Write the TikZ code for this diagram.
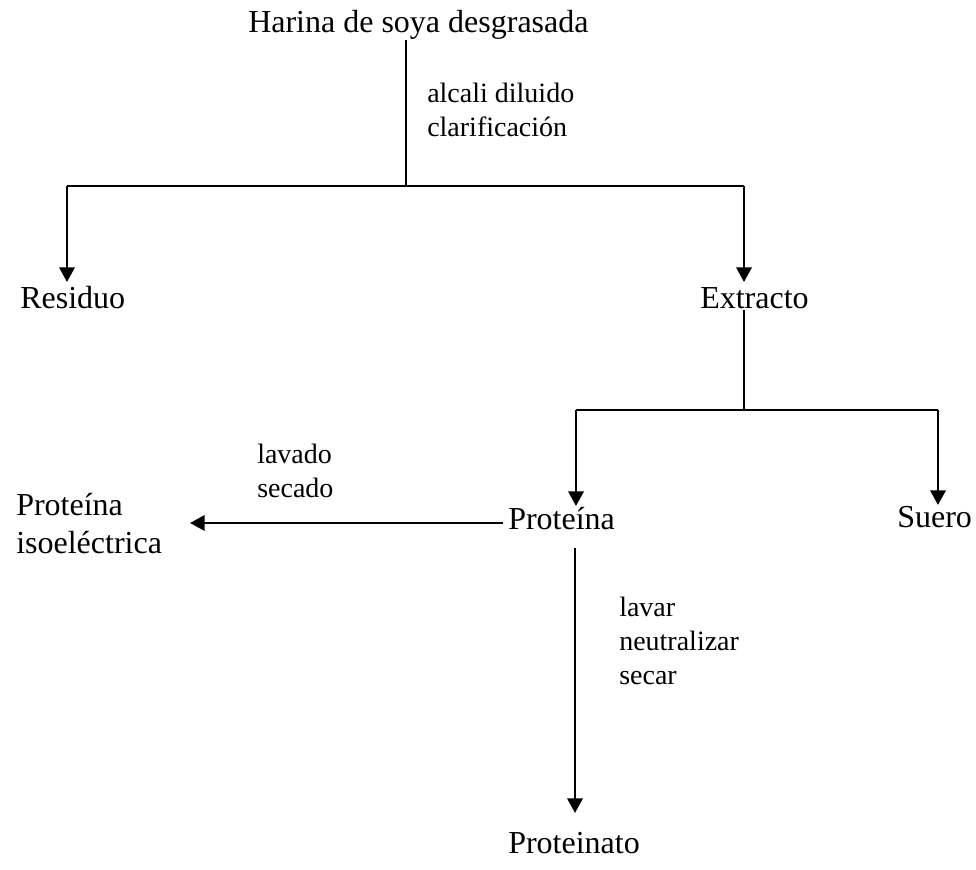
\documentclass[tikz,border=0pt]{standalone}
\usepackage{fontspec}
\setmainfont{Liberation Serif}
\usetikzlibrary{arrows.meta}
\begin{document}
\begin{tikzpicture}[x=0.75pt,y=-0.75pt,
  main/.style={font=\fontsize{24}{28.5}\selectfont, inner sep=0pt, anchor=base west, align=left},
  lbl/.style={font=\fontsize{21}{25.5}\selectfont, inner sep=0pt, anchor=base west, align=left},
  ln/.style={line width=1.5pt},
  arr/.style={line width=1.8pt, -{Triangle[length=11pt,width=11.5pt]}}]
\useasboundingbox (0,0) rectangle (976,870);
% texts (multi-line nodes are anchored at the baseline of their last line)
\node[main] (harina) at (248,33) {Harina de soya desgrasada};
\node[lbl] (l1) at (427,137) {alcali diluido\\clarificación};
\node[main] (res) at (20,309) {Residuo};
\node[main] (ext) at (700,309) {Extracto};
\node[main] (prot) at (508,529) {Proteína};
\node[main] (suero) at (897,527) {Suero};
\node[main] (iso) at (16,553) {Proteína\\isoeléctrica};
\node[lbl] (l2) at (257,497) {lavado\\secado};
\node[lbl] (l3) at (619,684) {lavar\\neutralizar\\secar};
\node[main] (pnato) at (508,853) {Proteinato};
% junctions and arrow tips
\coordinate (j1) at (406,186);
\coordinate (jl) at (67,186);
\coordinate (jr) at (744,186);
\coordinate (tres) at (67,282);
\coordinate (text) at (744,282);
\coordinate (j2) at (744,410);
\coordinate (j2l) at (576,410);
\coordinate (j2r) at (938,410);
\coordinate (tprot) at (576,506);
\coordinate (tsuero) at (938,505);
\coordinate (hs) at (503,523);
\coordinate (tiso) at (190,523);
\coordinate (vs) at (575,548);
\coordinate (tpnato) at (575,813);
% connectors
\draw[line width=1.2pt] (harina.south -| j1) -- (j1);
\draw[ln] (jl) -- (jr);
\draw[arr] (jl) -- (tres);
\draw[arr] (jr) -- (text);
\draw[ln] (ext.south -| j2) -- (j2);
\draw[ln] (j2l) -- (j2r);
\draw[arr] (j2l) -- (tprot);
\draw[arr] (j2r) -- (tsuero);
\draw[arr] (hs) -- (tiso);
\draw[arr] (vs) -- (tpnato);
\end{tikzpicture}
\end{document}
